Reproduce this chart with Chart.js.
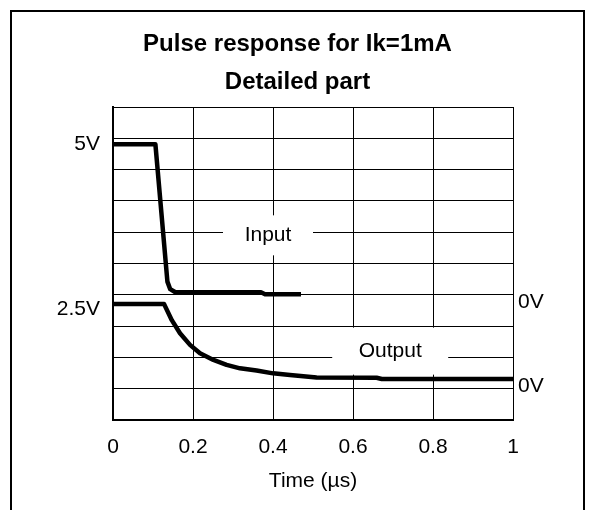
<html><head><meta charset="UTF-8">
<title>Pulse response for Ik=1mA</title>
<style>
    body, html {
        margin: 0;
        padding: 0;
        background-color: #fff;
        font-family: 'Liberation Sans', Arial, sans-serif;
    }
    .wrap {
        position: relative;
        width: 595px;
        height: 510px;
        overflow: hidden;
    }
    .frame {
        position: absolute;
        left: 10px;
        top: 10px;
        width: 571px;
        height: 520px;
        border: 2px solid #000;
        border-bottom: none;
        pointer-events: none;
    }
    canvas {
        position: absolute;
        left: 0;
        top: 0;
    }
</style>
<script src="https://cdn.jsdelivr.net/npm/chart.js"></script>
</head>
<body>
<div class="wrap">
    <canvas id="pulseChart" width="595" height="510"></canvas>
    <div class="frame"></div>
</div>

<script>
    // screen is 10 vertical divisions, time in µs
    const inputTime   = [0, 0.106, 0.136, 0.143, 0.156, 0.37, 0.38, 0.47];
    const inputLevel  = [8.81, 8.81, 4.42, 4.18, 4.08, 4.08, 4.02, 4.02];
    const outputTime  = [0, 0.1275, 0.147, 0.1675, 0.1925, 0.2175, 0.251, 0.284, 0.3175, 0.359, 0.40, 0.4425, 0.509, 0.659, 0.672, 1.0];
    const outputLevel = [3.71, 3.71, 3.19, 2.77, 2.40, 2.13, 1.92, 1.76, 1.65, 1.58, 1.49, 1.44, 1.36, 1.35, 1.31, 1.31];

    const xTicks = [0, 0.2, 0.4, 0.6, 0.8, 1];
    const leftTickValues  = [8.81, 3.55];
    const leftTickLabels  = ['5V', '2.5V'];
    const rightTickValues = [3.77, 1.09];
    const rightTickLabels = ['0V', '0V'];

    const traceLabels = ['Input', 'Output'];

    // label boxes (data coords + box size in px)
    const notes = [
        { text: traceLabels[0], x: 0.3875, y: 5.9, w: 90, h: 40 },
        { text: traceLabels[1], x: 0.693, y: 2.2, w: 116, h: 47 }
    ];

    const fontFamily = "'Liberation Sans', Arial, sans-serif";

    function toPoints(xs, ys) {
        return xs.map((x, i) => ({ x: x, y: ys[i] }));
    }

    const noteBoxes = {
        id: 'noteBoxes',
        beforeDatasetsDraw(chart) {
            const ctx = chart.ctx;
            const sx = chart.scales.x, sy = chart.scales.y;
            ctx.save();
            ctx.font = '21px ' + fontFamily;
            ctx.textAlign = 'center';
            ctx.textBaseline = 'middle';
            notes.forEach(n => {
                const px = sx.getPixelForValue(n.x);
                const py = sy.getPixelForValue(n.y);
                ctx.fillStyle = '#fff';
                ctx.fillRect(px - n.w / 2, py - n.h / 2, n.w, n.h);
                ctx.fillStyle = '#000';
                ctx.fillText(n.text, px, py);
            });
            ctx.restore();
        }
    };

    new Chart(document.getElementById('pulseChart'), {
        type: 'line',
        data: {
            datasets: [{
                label: traceLabels[0],
                data: toPoints(inputTime, inputLevel),
                borderColor: '#000',
                borderWidth: 4.5,
                pointRadius: 0,
                borderJoinStyle: 'round',
                tension: 0
            }, {
                label: traceLabels[1],
                data: toPoints(outputTime, outputLevel),
                borderColor: '#000',
                borderWidth: 4.5,
                pointRadius: 0,
                borderJoinStyle: 'round',
                tension: 0
            }]
        },
        options: {
            responsive: false,
            animation: false,
            devicePixelRatio: 1,
            layout: { padding: 0 },
            plugins: {
                legend: { display: false },
                tooltip: { enabled: false },
                title: {
                    display: true,
                    text: ['Pulse response for Ik=1mA', 'Detailed part'],
                    color: '#000',
                    font: { family: fontFamily, size: 24, weight: 'bold', lineHeight: 1.5625 },
                    padding: { top: 26, bottom: 6 }
                }
            },
            scales: {
                x: {
                    type: 'linear',
                    min: 0,
                    max: 1,
                    afterFit(scale) { scale.height = 90; },
                    afterBuildTicks(scale) { scale.ticks = xTicks.map(v => ({ value: v })); },
                    grid: { color: '#000', lineWidth: 1, drawTicks: false },
                    border: { color: '#000', width: 2 },
                    ticks: {
                        color: '#000',
                        font: { family: fontFamily, size: 21 },
                        padding: 15,
                        maxRotation: 0,
                        autoSkip: false,
                        callback: v => String(v)
                    },
                    title: {
                        display: true,
                        text: 'Time (µs)',
                        color: '#000',
                        font: { family: fontFamily, size: 21 },
                        padding: { top: 0, bottom: 16 }
                    }
                },
                y: {
                    type: 'linear',
                    position: 'left',
                    min: 0,
                    max: 10,
                    afterFit(scale) { scale.width = 113; },
                    afterBuildTicks(scale) {
                        const t = [];
                        for (let i = 0; i <= 10; i++) t.push({ value: i });
                        leftTickValues.forEach(v => t.push({ value: v }));
                        t.sort((a, b) => a.value - b.value);
                        scale.ticks = t;
                    },
                    grid: {
                        drawTicks: false,
                        lineWidth: 1,
                        color: ctx => (ctx.tick && Number.isInteger(ctx.tick.value)) ? '#000' : 'rgba(0,0,0,0)'
                    },
                    border: { color: '#000', width: 2 },
                    ticks: {
                        color: '#000',
                        font: { family: fontFamily, size: 21 },
                        padding: 13,
                        autoSkip: false,
                        callback: v => {
                            const i = leftTickValues.indexOf(v);
                            return i >= 0 ? leftTickLabels[i] : '';
                        }
                    }
                },
                y2: {
                    type: 'linear',
                    position: 'right',
                    min: 0,
                    max: 10,
                    afterFit(scale) { scale.width = 82; },
                    afterBuildTicks(scale) { scale.ticks = rightTickValues.map(v => ({ value: v })); },
                    grid: { display: false, drawTicks: false },
                    border: { display: false },
                    ticks: {
                        color: '#000',
                        font: { family: fontFamily, size: 21 },
                        padding: 5,
                        autoSkip: false,
                        callback: v => {
                            const i = rightTickValues.indexOf(v);
                            return i >= 0 ? rightTickLabels[i] : '';
                        }
                    }
                }
            }
        },
        plugins: [noteBoxes]
    });
</script>
</body>
</html>
